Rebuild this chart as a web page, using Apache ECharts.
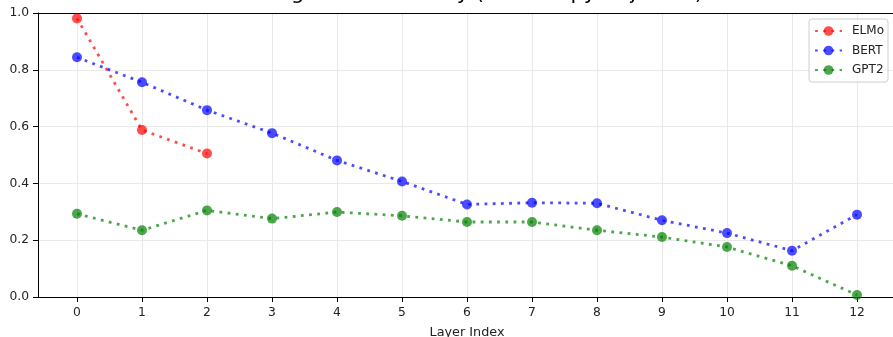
<!DOCTYPE html>
<html>
<head>
<meta charset="utf-8">
<script src="https://cdn.jsdelivr.net/npm/echarts@6/dist/echarts.min.js"></script>
<style>
html,body{margin:0;padding:0;background:#fff;}
#chart{width:893px;height:337px;}
</style>
</head>
<body>
<div id="chart"></div>
<script>
const titleText = "Average Self-Similarity (Anisotropy Adjusted)";
const xAxisName = "Layer Index";
const layers = [0,1,2,3,4,5,6,7,8,9,10,11,12];
const elmo = [0.981, 0.588, 0.505];
const bert = [0.844, 0.756, 0.658, 0.577, 0.481, 0.407, 0.326, 0.332, 0.330, 0.270, 0.225, 0.163, 0.290];
const gpt2 = [0.293, 0.235, 0.305, 0.276, 0.299, 0.286, 0.264, 0.264, 0.235, 0.211, 0.176, 0.110, 0.007];
const yTicks = [0, 0.2, 0.4, 0.6, 0.8, 1.0];

const chart = echarts.init(document.getElementById('chart'), null, {renderer:'canvas'});
const font = 'DejaVu Sans';
const txt = '#222';

function mk(name, vals, color){
  return {
    name: name, type: 'line', xAxisIndex: 0, yAxisIndex: 0,
    data: vals.map((v,i)=>[layers[i], v]),
    symbol: 'circle', symbolSize: 10,
    itemStyle: {color: color, opacity: 0.7},
    lineStyle: {color: color, opacity: 0.7, width: 2.8, type: [2.8, 5.4], cap: 'butt'},
    emphasis: {disabled: true},
    clip: false,
    z: 3
  };
}

chart.setOption({
  animation: false,
  backgroundColor: '#fff',
  textStyle: {fontFamily: font},
  graphic: [{
    type: 'text', x: 467, y: 4,
    style: {text: titleText, fontFamily: font, fontSize: 21, fill: '#000',
            textAlign: 'center', textVerticalAlign: 'bottom'}
  }],
  grid: [
    {left: 77, right: 36, top: 13, bottom: 40, containLabel: false, outerBoundsMode: 'none'},
    {left: 38, right: -3, top: 13, bottom: 40, containLabel: false, outerBoundsMode: 'none'}
  ],
  xAxis: [
    {gridIndex: 0, type: 'value', min: 0, max: 12, interval: 1,
     axisLine: {show: false},
     axisTick: {show: true, length: 5, lineStyle: {color: '#000'}},
     axisLabel: {fontFamily: font, fontSize: 12.3, color: txt, margin: 10},
     splitLine: {show: true, lineStyle: {color: '#e9e9e9', width: 1}}},
    {gridIndex: 1, type: 'value', min: 0, max: 1, position: 'bottom',
     name: xAxisName, nameLocation: 'middle', nameGap: 29,
     nameTextStyle: {fontFamily: font, fontSize: 12.8, color: txt},
     axisLine: {show: true, lineStyle: {color: '#000', width: 1}},
     axisTick: {show: false}, axisLabel: {show: false}, splitLine: {show: false}},
    {gridIndex: 1, type: 'value', min: 0, max: 1, position: 'top',
     axisLine: {show: true, lineStyle: {color: '#000', width: 1}},
     axisTick: {show: false}, axisLabel: {show: false}, splitLine: {show: false}}
  ],
  yAxis: [
    {gridIndex: 0, type: 'value', min: 0, max: 1, show: false,
     splitLine: {show: false}},
    {gridIndex: 1, type: 'value', min: yTicks[0], max: yTicks[yTicks.length-1], interval: 0.2,
     axisLine: {show: true, lineStyle: {color: '#000', width: 1}},
     axisTick: {show: true, length: 5, lineStyle: {color: '#000'}},
     axisLabel: {fontFamily: font, fontSize: 12.3, color: txt, margin: 9,
                 formatter: v => v.toFixed(1)},
     splitLine: {show: true, lineStyle: {color: '#e9e9e9', width: 1}}}
  ],
  legend: {
    data: ['ELMo', 'BERT', 'GPT2'],
    right: 5, top: 19, orient: 'vertical',
    itemWidth: 27, itemHeight: 12, itemGap: 7.5,
    padding: [6, 4, 6, 5],
    backgroundColor: 'rgba(255,255,255,0.8)',
    borderColor: '#cfcfcf', borderWidth: 1, borderRadius: 3,
    textStyle: {fontFamily: font, fontSize: 12, color: txt, padding: [0, 0, 0, 5]}
  },
  series: [
    mk('ELMo', elmo, '#ff0000'),
    mk('BERT', bert, '#0000ff'),
    mk('GPT2', gpt2, '#008000')
  ]
});
</script>
</body>
</html>
